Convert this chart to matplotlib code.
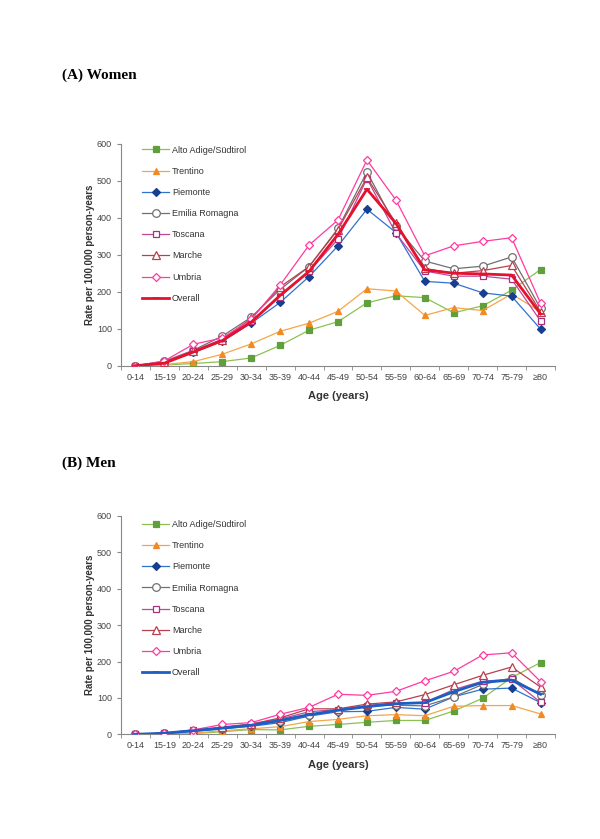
import numpy as np
import matplotlib
matplotlib.use("Agg")
import matplotlib.pyplot as plt

plt.rcParams['font.family'] = ['Liberation Sans', 'DejaVu Sans']

age_groups = ["0-14", "15-19", "20-24", "25-29", "30-34", "35-39", "40-44", "45-49",
              "50-54", "55-59", "60-64", "65-69", "70-74", "75-79", "≥80"]
regions = ["Alto Adige/Südtirol", "Trentino", "Piemonte", "Emilia Romagna",
           "Toscana", "Marche", "Umbria", "Overall"]

# (A) Women - rate per 100,000 person-years
women_alto_adige = [0, 2, 6, 11, 21, 55, 96, 119, 170, 189, 184, 143, 162, 204, 260]
women_trentino   = [0, 3, 11, 31, 59, 93, 115, 147, 208, 202, 136, 157, 149, 194, 146]
women_piemonte   = [0, 8, 36, 66, 115, 171, 241, 324, 423, 360, 228, 223, 197, 188, 99]
women_emilia     = [0, 12, 42, 80, 131, 206, 268, 371, 524, 377, 283, 262, 269, 294, 155]
women_toscana    = [0, 10, 40, 72, 120, 187, 255, 342, 506, 358, 256, 242, 242, 234, 121]
women_marche     = [0, 10, 40, 70, 128, 213, 268, 368, 509, 385, 263, 250, 257, 271, 146]
women_umbria     = [0, 13, 58, 75, 125, 218, 326, 394, 556, 448, 297, 324, 336, 346, 169]
women_overall    = [0, 7, 37, 68, 118, 190, 255, 355, 477, 385, 259, 250, 248, 245, 140]

# (B) Men
men_alto_adige = [0, 0, 2, 7, 13, 12, 22, 27, 33, 38, 38, 64, 99, 156, 197]
men_trentino   = [0, 0, 3, 10, 15, 21, 35, 41, 51, 54, 51, 77, 79, 79, 56]
men_piemonte   = [0, 2, 8, 15, 22, 32, 50, 62, 63, 74, 69, 103, 124, 127, 87]
men_emilia     = [0, 3, 9, 16, 25, 36, 52, 64, 78, 80, 78, 103, 137, 155, 108]
men_toscana    = [0, 3, 12, 18, 28, 42, 62, 68, 79, 87, 87, 123, 146, 151, 88]
men_marche     = [0, 3, 10, 20, 28, 45, 70, 70, 83, 89, 109, 136, 162, 185, 130]
men_umbria     = [0, 3, 12, 27, 32, 55, 74, 110, 107, 118, 147, 173, 218, 224, 145]
men_overall    = [0, 3, 10, 17, 25, 38, 54, 66, 76, 84, 87, 117, 143, 149, 110]

women = [women_alto_adige, women_trentino, women_piemonte, women_emilia,
         women_toscana, women_marche, women_umbria, women_overall]
men = [men_alto_adige, men_trentino, men_piemonte, men_emilia,
       men_toscana, men_marche, men_umbria, men_overall]

# style per region: line colour, marker, marker face, marker edge, size, lw
styles = [
    dict(color="#8cc152", marker="s", mfc="#5fa03c", mec="#5fa03c", ms=4.5, lw=0.9),
    dict(color="#f5a54a", marker="^", mfc="#f08a24", mec="#f08a24", ms=5, lw=0.9),
    dict(color="#2f72d0", marker="D", mfc="#173f8f", mec="#173f8f", ms=4, lw=0.9),
    dict(color="#707070", marker="o", mfc="white", mec="#707070", ms=5.5, lw=0.9),
    dict(color="#c0479a", marker="s", mfc="white", mec="#a8307f", ms=5, lw=0.9),
    dict(color="#b8404e", marker="^", mfc="white", mec="#b8404e", ms=5.5, lw=0.9),
    dict(color="#ff3aa0", marker="D", mfc="white", mec="#ff3aa0", ms=4.5, lw=0.9),
]
overall_color = {"A": "#e3122e", "B": "#1b5fc4"}

fig = plt.figure(figsize=(6.0, 8.39), dpi=100)
fig.patch.set_facecolor("white")

x = np.arange(len(age_groups))


def draw_panel(ax, series, panel, leg_y):
    for i, (name, vals) in enumerate(zip(regions, series)):
        if name == "Overall":
            ax.plot(x, vals, color=overall_color[panel], lw=2.0, marker="_",
                    ms=5, mew=1.2, label=name, zorder=4)
        else:
            s = styles[i]
            ax.plot(x, vals, color=s["color"], lw=s["lw"], marker=s["marker"],
                    ms=s["ms"], mfc=s["mfc"], mec=s["mec"], mew=0.9,
                    label=name, zorder=3)
    ax.set_xlim(-0.5, len(age_groups) - 0.5)
    ax.set_ylim(0, 600)
    ax.set_yticks(range(0, 601, 100))
    ax.set_xticks(x)
    ax.set_xticklabels(age_groups, fontsize=6.5, color="#444444")
    ax.set_xticks(np.arange(-0.5, len(age_groups), 1), minor=True)
    ax.tick_params(axis="x", which="major", length=0, pad=5)
    ax.tick_params(axis="x", which="minor", length=3, color="#888888", direction="out")
    ax.tick_params(axis="y", labelsize=6.5, labelcolor="#444444", length=3,
                   color="#888888", direction="out")
    for sp in ["top", "right"]:
        ax.spines[sp].set_visible(False)
    for sp in ["left", "bottom"]:
        ax.spines[sp].set_color("#888888")
        ax.spines[sp].set_linewidth(0.8)
    ax.set_xlabel("Age (years)", fontsize=8, fontweight="bold", color="#333333",
                  labelpad=7)
    ax.set_ylabel("Rate per 100,000 person-years", fontsize=7, fontweight="bold",
                  color="#333333", labelpad=1)
    leg = ax.legend(loc="upper left", bbox_to_anchor=(0.04, leg_y), frameon=False,
                    fontsize=6.5, labelspacing=1.35, handlelength=3.0,
                    handletextpad=0.3, borderaxespad=0)
    for t in leg.get_texts():
        t.set_color("#333333")


axA = fig.add_axes([0.2017, 0.5641, 0.7233, 0.2646])
draw_panel(axA, women, "A", 1.008)
axB = fig.add_axes([0.2017, 0.1248, 0.7233, 0.2602])
draw_panel(axB, men, "B", 0.998)

fig.text(0.103, 1 - 75 / 839, "(A) Women", fontsize=11, fontweight="bold",
         family=["Liberation Serif", "DejaVu Serif"], va="center")
fig.text(0.103, 1 - 463 / 839, "(B) Men", fontsize=11, fontweight="bold",
         family=["Liberation Serif", "DejaVu Serif"], va="center")

fig.savefig("out.png", dpi=100, facecolor="white")
